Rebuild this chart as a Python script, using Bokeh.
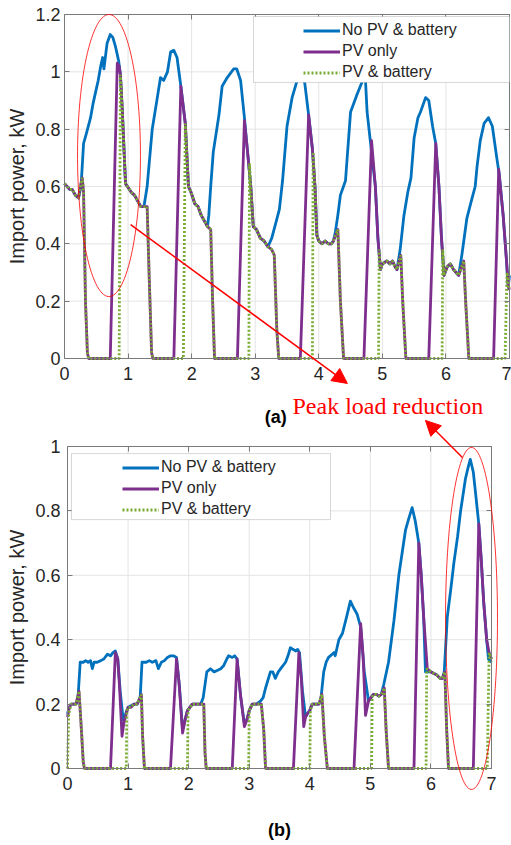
import numpy as np
from bokeh.plotting import figure
from bokeh.layouts import column
from bokeh.models import (Range1d, FixedTicker, CustomJSTickFormatter, LinearAxis, Legend,
                          LegendItem, BoxAnnotation, Arrow, NormalHead, Label, PolyAnnotation)
from bokeh.embed import file_html
from bokeh.resources import INLINE

# ---------------- data ----------------
X_TICKS = [0, 1, 2, 3, 4, 5, 6, 7]
A_Y_TICKS = [0, 0.2, 0.4, 0.6, 0.8, 1.0, 1.2]
B_Y_TICKS = [0, 0.2, 0.4, 0.6, 0.8, 1.0]
SERIES_NAMES = ["No PV & battery", "PV only", "PV & battery"]

# (a) No PV & battery
A_BLUE_X = [0, 0.08, 0.12, 0.17, 0.22, 0.26, 0.3, 0.35, 0.41, 0.45,
            0.49, 0.53, 0.57, 0.6, 0.62, 0.67, 0.72, 0.76, 0.8, 0.85,
            0.88, 0.91, 0.96, 0.99, 1.05, 1.1, 1.15, 1.2, 1.25, 1.3,
            1.38, 1.46, 1.51, 1.56, 1.62, 1.67, 1.72, 1.77, 1.83, 1.9,
            1.95, 1.99, 2.05, 2.1, 2.15, 2.2, 2.25, 2.27, 2.3, 2.34,
            2.43, 2.48, 2.56, 2.66, 2.71, 2.77, 2.83, 2.88, 2.93, 2.97,
            3.02, 3.08, 3.14, 3.2, 3.26, 3.32, 3.38, 3.43, 3.5, 3.58,
            3.66, 3.73, 3.78, 3.84, 3.9, 3.94, 3.97, 4.0, 4.05, 4.1,
            4.15, 4.2, 4.23, 4.26, 4.3, 4.34, 4.42, 4.47, 4.5, 4.6,
            4.69, 4.73, 4.76, 4.81, 4.89, 4.93, 4.97, 5.0, 5.07, 5.12,
            5.16, 5.2, 5.23, 5.28, 5.34, 5.4, 5.45, 5.5, 5.56, 5.6,
            5.68, 5.73, 5.79, 5.84, 5.89, 5.93, 5.97, 6.02, 6.07, 6.12,
            6.16, 6.2, 6.25, 6.33, 6.4, 6.46, 6.49, 6.54, 6.6, 6.67,
            6.73, 6.8, 6.84, 6.9, 6.95, 6.98, 7.0]
A_BLUE_Y = [0.61, 0.59, 0.59, 0.57, 0.56, 0.6, 0.75, 0.79, 0.84, 0.89,
            0.93, 0.97, 1.02, 1.05, 1.01, 1.1, 1.13, 1.12, 1.09, 1.04,
            0.99, 0.86, 0.61, 0.6, 0.58, 0.57, 0.55, 0.53, 0.53, 0.6,
            0.8, 0.91, 0.98, 0.97, 1.0, 1.07, 1.075, 1.05, 0.95, 0.82,
            0.6, 0.58, 0.54, 0.53, 0.5, 0.48, 0.46, 0.5, 0.6, 0.72,
            0.85, 0.95, 0.98, 1.01, 1.01, 0.97, 0.84, 0.72, 0.6, 0.46,
            0.45, 0.42, 0.41, 0.39, 0.42, 0.47, 0.52, 0.62, 0.81, 0.91,
            0.97, 1.0, 0.96, 0.85, 0.73, 0.6, 0.43, 0.41, 0.4, 0.41,
            0.4, 0.4, 0.41, 0.44, 0.5, 0.57, 0.62, 0.77, 0.86, 0.92,
            0.97, 0.99, 0.86, 0.76, 0.6, 0.42, 0.31, 0.33, 0.34, 0.33,
            0.34, 0.32, 0.31, 0.38, 0.5, 0.58, 0.63, 0.77, 0.84, 0.86,
            0.91, 0.9, 0.81, 0.75, 0.6, 0.42, 0.29, 0.32, 0.33, 0.31,
            0.3, 0.29, 0.36, 0.49, 0.55, 0.6, 0.67, 0.76, 0.82, 0.84,
            0.81, 0.7, 0.64, 0.5, 0.35, 0.25, 0.29]

# (a) PV only
A_PV_X = [0, 0.08, 0.12, 0.17, 0.22, 0.25, 0.28, 0.3, 0.33, 0.36,
          0.38, 0.72, 0.83, 0.86, 0.88, 0.91, 0.96, 0.99, 1.05, 1.1,
          1.15, 1.2, 1.25, 1.3, 1.33, 1.37, 1.39, 1.72, 1.83, 1.9,
          1.95, 1.99, 2.05, 2.1, 2.15, 2.2, 2.25, 2.3, 2.33, 2.36,
          2.72, 2.83, 2.88, 2.93, 2.97, 3.02, 3.08, 3.14, 3.2, 3.26,
          3.3, 3.34, 3.37, 3.71, 3.84, 3.9, 3.94, 3.97, 4.0, 4.05,
          4.1, 4.15, 4.2, 4.23, 4.28, 4.3, 4.34, 4.39, 4.71, 4.83,
          4.89, 4.93, 4.97, 5.0, 5.07, 5.12, 5.16, 5.2, 5.23, 5.29,
          5.32, 5.37, 5.73, 5.84, 5.89, 5.93, 5.97, 6.02, 6.07, 6.12,
          6.16, 6.2, 6.28, 6.31, 6.36, 6.75, 6.83, 6.9, 6.95, 6.98,
          7.0]
A_PV_Y = [0.61, 0.59, 0.59, 0.57, 0.56, 0.6, 0.63, 0.58, 0.2, 0.02,
          0, 0, 1.03, 1.02, 0.99, 0.86, 0.61, 0.6, 0.58, 0.57,
          0.55, 0.53, 0.53, 0.53, 0.3, 0.02, 0, 0, 0.95, 0.82,
          0.6, 0.58, 0.54, 0.53, 0.5, 0.48, 0.46, 0.45, 0.2, 0,
          0, 0.83, 0.72, 0.6, 0.46, 0.45, 0.42, 0.41, 0.39, 0.38,
          0.36, 0.1, 0, 0, 0.85, 0.73, 0.6, 0.43, 0.41, 0.4,
          0.41, 0.4, 0.4, 0.41, 0.44, 0.45, 0.2, 0, 0, 0.76,
          0.6, 0.42, 0.31, 0.33, 0.34, 0.33, 0.34, 0.32, 0.31, 0.36,
          0.2, 0, 0, 0.75, 0.6, 0.42, 0.29, 0.32, 0.33, 0.31,
          0.3, 0.29, 0.34, 0.2, 0, 0, 0.66, 0.5, 0.35, 0.25,
          0.24]

# (a) PV & battery
A_PVB_X = [0, 0.08, 0.12, 0.17, 0.22, 0.25, 0.28, 0.3, 0.33, 0.36,
           0.38, 0.86, 0.88, 0.91, 0.96, 0.99, 1.05, 1.1, 1.15, 1.2,
           1.25, 1.3, 1.33, 1.37, 1.39, 1.87, 1.9, 1.95, 1.99, 2.05,
           2.1, 2.15, 2.2, 2.25, 2.3, 2.33, 2.36, 2.9, 2.91, 2.93,
           2.97, 3.02, 3.08, 3.14, 3.2, 3.26, 3.3, 3.34, 3.37, 3.9,
           3.91, 3.94, 3.97, 4.0, 4.05, 4.1, 4.15, 4.2, 4.23, 4.28,
           4.3, 4.34, 4.39, 4.94, 4.95, 4.97, 5.0, 5.07, 5.12, 5.16,
           5.2, 5.23, 5.29, 5.32, 5.37, 5.94, 5.95, 5.97, 6.02, 6.07,
           6.12, 6.16, 6.2, 6.28, 6.31, 6.36, 6.93, 6.96, 6.98, 7.0]
A_PVB_Y = [0.61, 0.59, 0.59, 0.57, 0.56, 0.6, 0.63, 0.58, 0.2, 0.02,
           0, 0, 0.99, 0.86, 0.61, 0.6, 0.58, 0.57, 0.55, 0.53,
           0.53, 0.53, 0.3, 0.02, 0, 0, 0.82, 0.6, 0.58, 0.54,
           0.53, 0.5, 0.48, 0.46, 0.45, 0.2, 0, 0, 0.68, 0.6,
           0.46, 0.45, 0.42, 0.41, 0.39, 0.38, 0.36, 0.1, 0, 0,
           0.72, 0.6, 0.43, 0.41, 0.4, 0.41, 0.4, 0.4, 0.41, 0.44,
           0.45, 0.2, 0, 0, 0.38, 0.31, 0.33, 0.34, 0.33, 0.34,
           0.32, 0.31, 0.36, 0.2, 0, 0, 0.38, 0.29, 0.32, 0.33,
           0.31, 0.3, 0.29, 0.34, 0.2, 0, 0, 0.3, 0.26, 0.24]

# (b) No PV & battery
B_BLUE_X = [0, 0.03, 0.06, 0.1, 0.14, 0.17, 0.21, 0.26, 0.3, 0.34,
            0.38, 0.41, 0.44, 0.49, 0.55, 0.6, 0.66, 0.71, 0.75, 0.79,
            0.83, 0.87, 0.92, 0.96, 1.0, 1.05, 1.1, 1.15, 1.2, 1.23,
            1.3, 1.35, 1.4, 1.46, 1.5, 1.55, 1.6, 1.65, 1.7, 1.75,
            1.8, 1.85, 1.9, 1.94, 1.98, 2.06, 2.14, 2.2, 2.24, 2.3,
            2.36, 2.42, 2.48, 2.53, 2.58, 2.63, 2.66, 2.72, 2.76, 2.8,
            2.86, 2.92, 2.96, 3.0, 3.05, 3.12, 3.19, 3.23, 3.27, 3.35,
            3.39, 3.43, 3.48, 3.52, 3.6, 3.64, 3.68, 3.72, 3.77, 3.8,
            3.83, 3.88, 3.93, 3.96, 4.0, 4.04, 4.1, 4.15, 4.18, 4.23,
            4.27, 4.31, 4.37, 4.4, 4.42, 4.48, 4.54, 4.62, 4.67, 4.72,
            4.78, 4.84, 4.9, 4.97, 5.05, 5.1, 5.14, 5.18, 5.22, 5.3,
            5.39, 5.47, 5.58, 5.64, 5.69, 5.74, 5.8, 5.84, 5.88, 5.91,
            5.96, 6.0, 6.05, 6.1, 6.15, 6.19, 6.22, 6.27, 6.33, 6.38,
            6.44, 6.49, 6.57, 6.62, 6.65, 6.7, 6.74, 6.79, 6.83, 6.87,
            6.92, 6.95, 7.0]
B_BLUE_Y = [0.17, 0.19, 0.2, 0.2, 0.2, 0.21, 0.33, 0.33, 0.335, 0.33,
            0.335, 0.31, 0.33, 0.33, 0.335, 0.34, 0.355, 0.35, 0.36, 0.365,
            0.34, 0.24, 0.15, 0.17, 0.19, 0.195, 0.2, 0.2, 0.22, 0.33,
            0.33, 0.335, 0.33, 0.335, 0.31, 0.33, 0.335, 0.345, 0.35, 0.35,
            0.345, 0.25, 0.12, 0.15, 0.18, 0.2, 0.2, 0.2, 0.22, 0.3,
            0.31, 0.3, 0.305, 0.31, 0.32, 0.34, 0.35, 0.345, 0.35, 0.34,
            0.22, 0.14, 0.15, 0.18, 0.2, 0.2, 0.21, 0.22, 0.25, 0.3,
            0.3, 0.28, 0.3, 0.31, 0.33, 0.35, 0.375, 0.37, 0.365, 0.37,
            0.36, 0.24, 0.16, 0.17, 0.18, 0.2, 0.2, 0.2, 0.21, 0.3,
            0.33, 0.345, 0.355, 0.36, 0.35, 0.4, 0.42, 0.48, 0.52, 0.5,
            0.48, 0.44, 0.3, 0.21, 0.23, 0.23, 0.225, 0.23, 0.26, 0.33,
            0.46, 0.6, 0.74, 0.78, 0.81, 0.77, 0.7, 0.6, 0.47, 0.3,
            0.3, 0.3, 0.295, 0.29, 0.28, 0.28, 0.3, 0.47, 0.56, 0.64,
            0.72, 0.8, 0.9, 0.94, 0.96, 0.92, 0.85, 0.76, 0.65, 0.52,
            0.4, 0.34, 0.33]

# (b) PV only
B_PV_X = [0, 0.03, 0.06, 0.1, 0.14, 0.19, 0.22, 0.26, 0.28, 0.71,
          0.79, 0.83, 0.86, 0.9, 0.93, 0.97, 1.0, 1.05, 1.1, 1.15,
          1.22, 1.24, 1.27, 1.7, 1.8, 1.84, 1.9, 1.94, 1.98, 2.06,
          2.14, 2.2, 2.25, 2.27, 2.29, 2.72, 2.8, 2.85, 2.92, 2.96,
          3.0, 3.05, 3.12, 3.2, 3.24, 3.27, 3.73, 3.82, 3.86, 3.9,
          3.93, 3.96, 4.0, 4.04, 4.1, 4.15, 4.2, 4.24, 4.29, 4.73,
          4.84, 4.88, 4.92, 4.97, 5.05, 5.1, 5.14, 5.18, 5.23, 5.26,
          5.3, 5.72, 5.8, 5.84, 5.88, 5.94, 6.0, 6.05, 6.1, 6.15,
          6.19, 6.23, 6.26, 6.29, 6.7, 6.79, 6.83, 6.87, 6.92, 6.96,
          7.0]
B_PV_Y = [0.16, 0.19, 0.2, 0.2, 0.2, 0.24, 0.15, 0.02, 0, 0,
          0.36, 0.34, 0.25, 0.1, 0.14, 0.17, 0.19, 0.19, 0.2, 0.2,
          0.23, 0.1, 0, 0, 0.34, 0.27, 0.11, 0.15, 0.18, 0.2,
          0.2, 0.2, 0.2, 0.05, 0, 0, 0.34, 0.24, 0.13, 0.15,
          0.18, 0.2, 0.2, 0.2, 0.12, 0, 0, 0.36, 0.28, 0.13,
          0.16, 0.17, 0.18, 0.2, 0.2, 0.2, 0.23, 0.1, 0, 0,
          0.45, 0.35, 0.165, 0.21, 0.23, 0.23, 0.225, 0.23, 0.25, 0.12,
          0, 0, 0.7, 0.6, 0.47, 0.31, 0.3, 0.295, 0.29, 0.28,
          0.28, 0.3, 0.12, 0, 0, 0.76, 0.65, 0.52, 0.4, 0.36,
          0.34]

# (b) PV & battery
B_PVB_X = [0, 0.02, 0.06, 0.1, 0.14, 0.19, 0.22, 0.26, 0.28, 0.97,
           0.98, 1.0, 1.05, 1.1, 1.15, 1.22, 1.24, 1.27, 1.98, 1.99,
           2.06, 2.14, 2.2, 2.25, 2.27, 2.29, 2.99, 3.0, 3.05, 3.12,
           3.2, 3.24, 3.27, 4.0, 4.01, 4.04, 4.1, 4.15, 4.2, 4.24,
           4.29, 5.02, 5.03, 5.05, 5.1, 5.14, 5.18, 5.23, 5.26, 5.3,
           5.92, 5.93, 6.0, 6.05, 6.1, 6.15, 6.19, 6.23, 6.26, 6.29,
           6.93, 6.96, 7.0]
B_PVB_Y = [0, 0.17, 0.2, 0.2, 0.2, 0.24, 0.15, 0.02, 0, 0,
           0.18, 0.19, 0.19, 0.2, 0.2, 0.23, 0.1, 0, 0, 0.18,
           0.2, 0.2, 0.2, 0.2, 0.05, 0, 0, 0.18, 0.2, 0.2,
           0.2, 0.12, 0, 0, 0.18, 0.2, 0.2, 0.2, 0.23, 0.1,
           0, 0, 0.22, 0.23, 0.23, 0.225, 0.23, 0.25, 0.12, 0,
           0, 0.31, 0.3, 0.295, 0.29, 0.28, 0.28, 0.3, 0.12, 0,
           0, 0.36, 0.34]

# ---------------- style ----------------
FONT = "Liberation Sans"
SERIF = "Liberation Serif"
TXT = "#262626"
FRAME = "#7a7a7a"
GRID = "#e4e4e4"
BLUE = "#0072BD"
PURPLE = "#7E2F8E"
GREEN = "#77AC30"
RED = "#ff0000"
LW = 2.8


def fmt():
    return CustomJSTickFormatter(code="return String(+tick.toFixed(2));")


def blank():
    return CustomJSTickFormatter(code="return '';")


def make_fig(height, xmax, ymax, yticks, geom, ystand):
    # geom: px per x unit, px per y unit, px left of x=0, px right of x=xmax,
    #       px above y=ymax, px below y=0  (the frame fills the whole canvas)
    ppx, ppy, ext_l, ext_r, ext_t, ext_b = geom
    p = figure(width=511, height=height,
               x_range=Range1d(-ext_l / ppx, xmax + ext_r / ppx),
               y_range=Range1d(-ext_b / ppy, ymax + ext_t / ppy),
               output_backend="svg", toolbar_location=None,
               min_border=0)
    p.outline_line_color = None
    p.background_fill_color = "white"
    p.border_fill_color = "white"
    p.grid.visible = False
    xa, ya = p.xaxis[0], p.yaxis[0]
    xa.fixed_location = 0
    ya.fixed_location = 0
    xa.bounds = (0, xmax)
    ya.bounds = (0, ymax)
    for ax, ticks in ((xa, X_TICKS), (ya, yticks)):
        ax.ticker = FixedTicker(ticks=ticks)
        ax.formatter = fmt()
        ax.axis_line_color = FRAME
        ax.major_tick_line_color = FRAME
        ax.major_tick_in = 5
        ax.major_tick_out = 0
        ax.minor_tick_line_color = None
        ax.major_label_text_font = FONT
        ax.major_label_text_font_size = "18px"
        ax.major_label_text_color = TXT
    xa.major_label_standoff = 8
    ya.major_label_standoff = ystand
    ya.axis_label = "Import power, kW"
    ya.axis_label_text_font = FONT
    ya.axis_label_text_font_style = "normal"
    ya.axis_label_text_font_size = "20px"
    ya.axis_label_text_color = TXT
    ya.axis_label_standoff = 4
    # box completed by top and right axes with inward ticks
    for place, ticks, loc, bnd in (("above", X_TICKS, ymax, (0, xmax)),
                                   ("right", yticks, xmax, (0, ymax))):
        ax = LinearAxis(ticker=FixedTicker(ticks=ticks), formatter=blank(),
                        fixed_location=loc, bounds=bnd,
                        major_tick_in=5, major_tick_out=0, minor_tick_line_color=None,
                        major_label_standoff=0, major_label_text_font_size="1px",
                        axis_line_color=FRAME, major_tick_line_color=FRAME)
        p.add_layout(ax, place)
    # grid lines inside the box only
    gx = [t for t in X_TICKS if 0 < t < xmax]
    gy = [t for t in yticks if 0 < t < ymax]
    p.segment(x0=gx, y0=[0] * len(gx), x1=gx, y1=[ymax] * len(gx),
              line_color=GRID, line_width=1, level="underlay")
    p.segment(x0=[0] * len(gy), y0=gy, x1=[xmax] * len(gy), y1=gy,
              line_color=GRID, line_width=1, level="underlay")
    return p


def add_series(p, xs, ys):
    r1 = p.line(xs[0], ys[0], line_color=BLUE, line_width=LW, line_join="round")
    r2 = p.line(xs[1], ys[1], line_color=PURPLE, line_width=LW, line_join="round")
    r3 = p.line(xs[2], ys[2], line_color=GREEN, line_width=LW, line_dash="2 2")
    return [r1, r2, r3]


def add_legend(p, rends, box, loc):
    p.add_layout(BoxAnnotation(left=box[0], right=box[1], bottom=box[2], top=box[3],
                               fill_color="white", fill_alpha=1.0,
                               line_color=FRAME, line_width=1))
    items = [LegendItem(label=n, renderers=[r]) for n, r in zip(SERIES_NAMES, rends)]
    lg = Legend(items=items, location=loc, padding=0, spacing=0, margin=0,
                label_height=21, glyph_height=21, glyph_width=37, label_standoff=2,
                label_text_font=FONT, label_text_font_size="16px", label_text_color=TXT,
                border_line_alpha=0, background_fill_alpha=0)
    p.add_layout(lg)


def ellipse(p, cx, cy, a, b):
    t = np.linspace(0, 2 * np.pi, 120)
    p.add_layout(PolyAnnotation(xs=list(cx + a * np.cos(t)), ys=list(cy + b * np.sin(t)),
                                fill_alpha=0, line_color=RED, line_width=1, line_alpha=0.8))


# ---------------- (a) ----------------
# canvas 386 px tall: box from y=14 to y=358, x from 64 to 509
pa = make_fig(386, 7, 1.2, A_Y_TICKS, (445 / 7, 344 / 1.2, 64, 2, 14, 28), 4)
ra = add_series(pa, [A_BLUE_X, A_PV_X, A_PVB_X], [A_BLUE_Y, A_PV_Y, A_PVB_Y])
ellipse(pa, 0.70, 0.708, 0.495, 0.492)
pa.add_layout(Arrow(end=NormalHead(size=15, fill_color=RED, line_color=RED),
                    x_start=1.04, y_start=0.467, x_end=4.45, y_end=-0.087,
                    line_color=RED, line_width=1.5))
add_legend(pa, ra, (2.973, 7.0, 0.963, 1.193), (303, 303.5))

# ---------------- (b) ----------------
# canvas 459 px tall (page y 386..845): box from page y=446 to 768, x from 67 to 491
pb = make_fig(459, 7, 1.0, B_Y_TICKS, (424 / 7, 322, 67, 20, 60, 77), 7)
rb = add_series(pb, [B_BLUE_X, B_PV_X, B_PVB_X], [B_BLUE_Y, B_PV_Y, B_PVB_Y])
ellipse(pb, 6.67, 0.466, 0.429, 0.531)
pb.add_layout(Arrow(end=NormalHead(size=15, fill_color=RED, line_color=RED),
                    x_start=6.52, y_start=0.966, x_end=5.91, y_end=1.081,
                    line_color=RED, line_width=1.5))
add_legend(pb, rb, (0.066, 4.342, 0.773, 0.978), (122, 325.5))
pb.add_layout(Label(x=3.715, y=1.127, text="Peak load reduction", text_font=SERIF,
                    text_font_size="24px", text_color=RED, text_baseline="alphabetic"))
pb.add_layout(Label(x=3.44, y=1.092, text="(a)", text_font=FONT, text_font_style="bold",
                    text_font_size="18px", text_color="black", text_align="center",
                    text_baseline="middle"))
pb.add_layout(Label(x=3.5, y=-0.1925, text="(b)", text_font=FONT, text_font_style="bold",
                    text_font_size="18px", text_color="black", text_align="center",
                    text_baseline="middle"))

layout = column(pa, pb, spacing=0)
open("out.html", "w").write(file_html(layout, INLINE))
